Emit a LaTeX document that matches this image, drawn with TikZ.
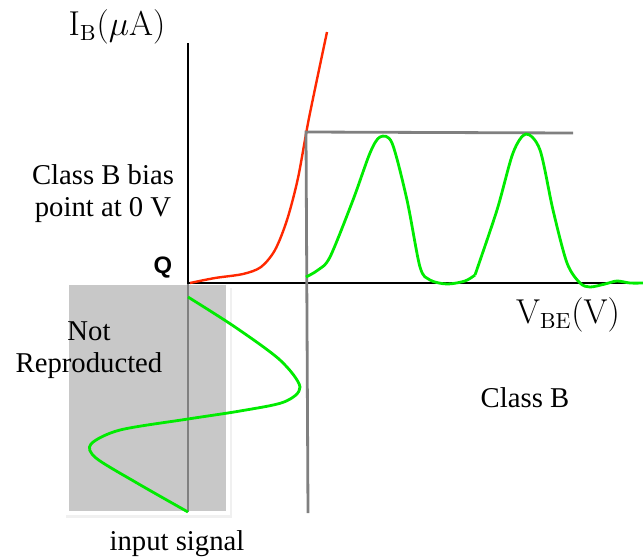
\documentclass[tikz,border=0pt]{standalone}
\usepackage{amsmath}
\usepackage[no-math]{fontspec}
\setmainfont{Liberation Serif}
\newfontfamily\qfont{Liberation Sans}
\usepackage{tikz}
\definecolor{curvered}{RGB}{255,40,0}
\definecolor{siggreen}{RGB}{0,235,0}
\definecolor{guidegray}{RGB}{128,128,128}
\definecolor{boxgray}{RGB}{200,200,200}

\begin{document}
\begin{tikzpicture}[x=0.5pt,y=-0.5pt,
		txt/.style={font=\fontsize{14.35}{16}\selectfont},
		mth/.style={font=\fontsize{16.3}{18}\selectfont},
		guide/.style={draw=guidegray,line width=1.4pt},
		sig/.style={siggreen,line width=1.4pt,smooth}]
			\useasboundingbox (0,0) rectangle (643,558);
			% shaded region of the input that is not reproduced
			\begin{scope}
				\fill[black!6] (66,288) rectangle (232,518);
				\fill[white] (64,281) rectangle (230,515);
				\fill[boxgray] (69,285) rectangle (226,511);
				\draw[guide] (188,272) -- (188,512);
				\draw[sig] plot coordinates {(188,297) (235,327) (280,360) (300,387) (284,402) (240,411) (188,419) (120,430) (91,444) (96,458) (137,483) (188,512)};
				\node[txt,align=center] (notrep) at (89,350) {Not\\Reproducted};
				\node[txt,anchor=base] (insig) at (177,550) {input signal};
			\end{scope}
			% axes
			\draw[line width=1pt] (188,43) -- (188,283) -- (643,283);
			\node[mth,anchor=base] (ylab) at (117,35) {$\mathrm{I_B}(\mu\mathrm{A})$};
			\node[mth,anchor=base] (xlab) at (568,323) {$\mathrm{V_{BE}}(\mathrm{V})$};
			\node[anchor=base,font=\qfont\bfseries\fontsize{11.9}{14}\selectfont] (qpt) at (163,273) {Q};
			\node[txt,align=center] (bias) at (103,194) {Class B bias\\point at 0 V};
			\node[txt,anchor=base] (classb) at (525,407) {Class B};
			% transfer curve
			\draw[curvered,line width=1.2pt,smooth] plot coordinates {(190,283) (215,278) (243,274) (261,267) (275,250) (287,220) (298,178) (309,118) (327,32)};
			% projection lines
			\draw[guide] (308,513) -- (306,132) -- (573,133);
			% output half waves
			\draw[sig] plot coordinates {(306,277) (318,270) (330,257) (353,200) (370,153) (380,137) (392,143) (407,200) (420,267) (430,280) (447,284) (465,281) (475,275)};
			\draw[sig] plot coordinates {(475,275) (497,210) (513,153) (526,134) (540,150) (553,210) (567,263) (580,283) (590,287) (605,284) (617,281) (630,283) (643,283)};
		\end{tikzpicture}
\end{document}
